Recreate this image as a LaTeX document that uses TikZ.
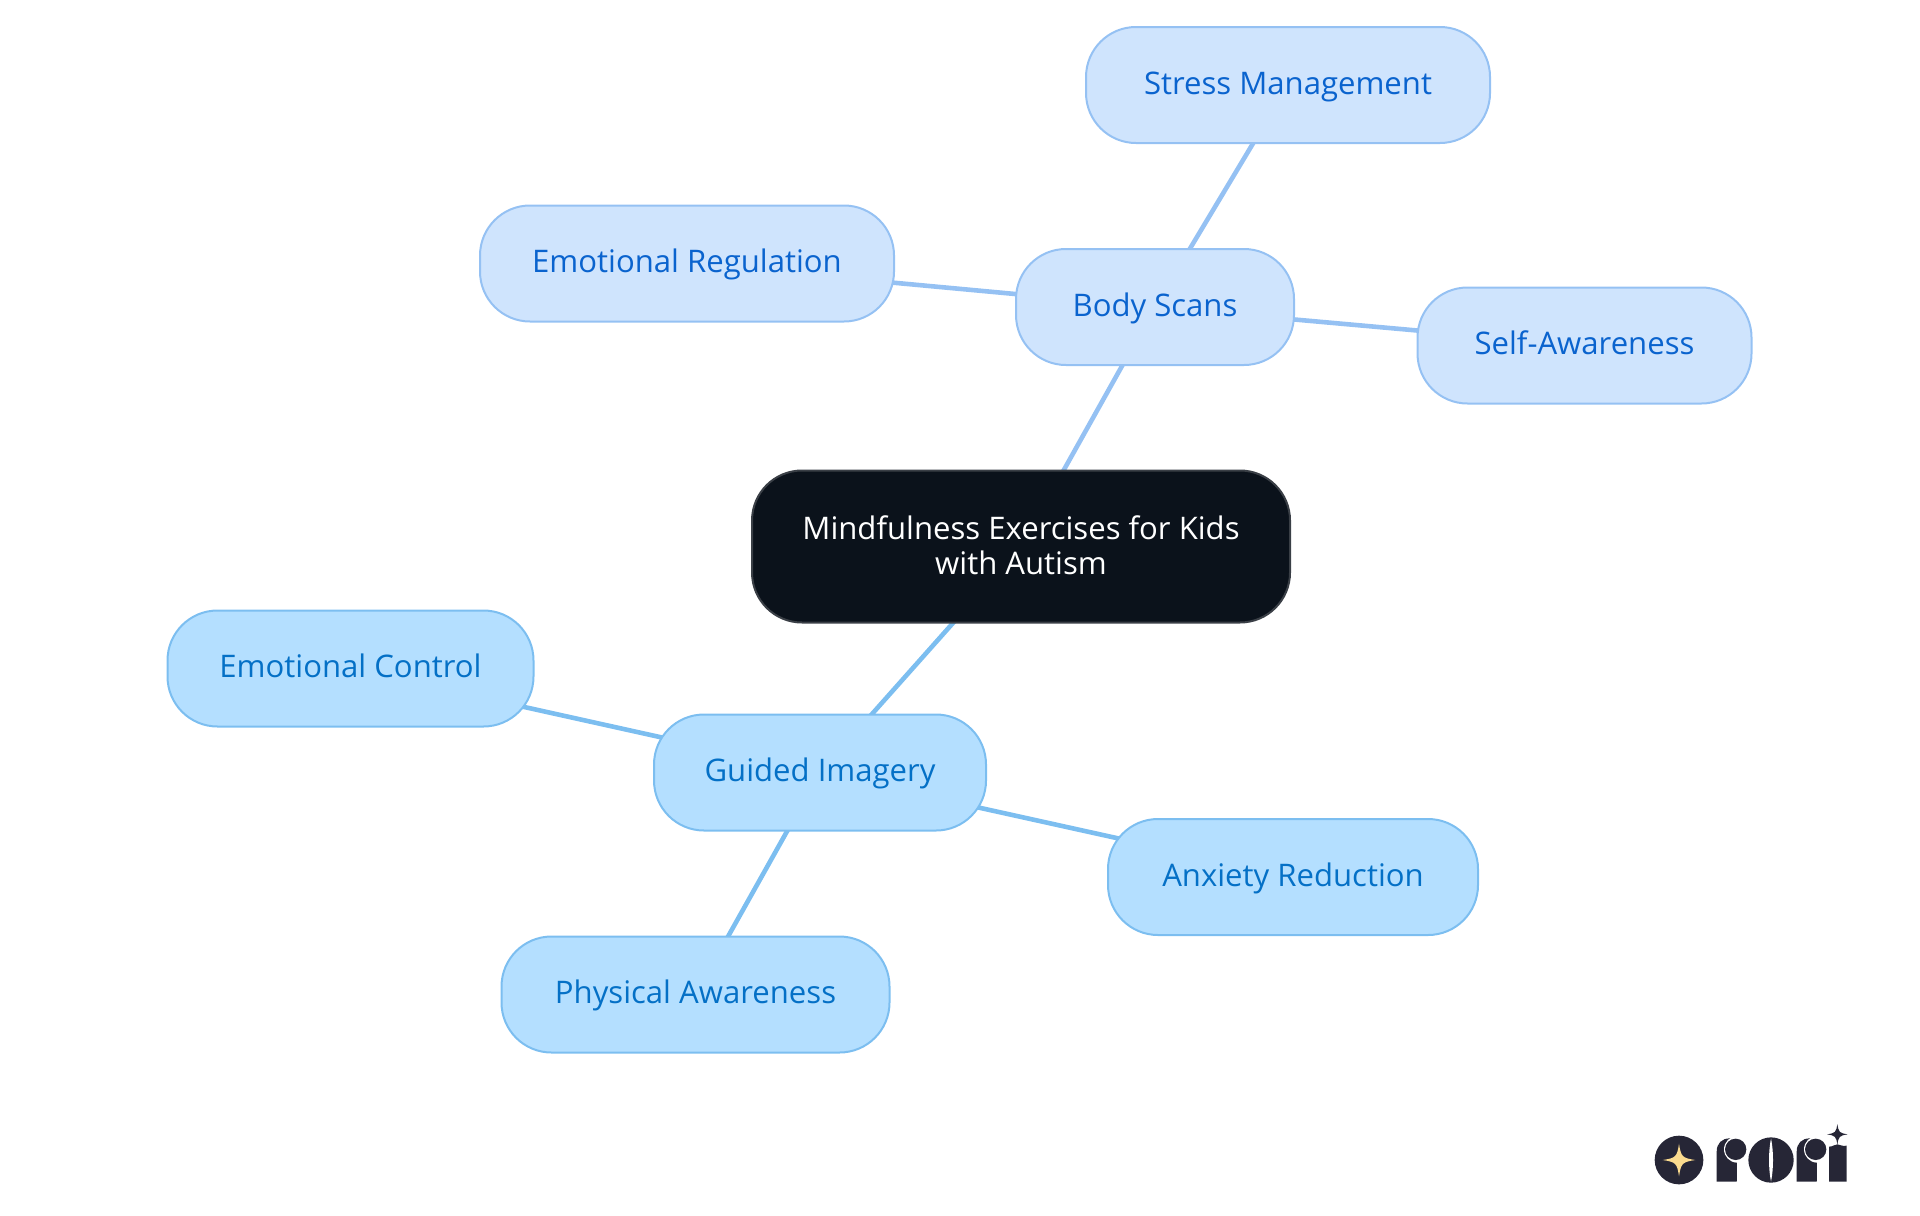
\documentclass[tikz,border=0pt]{standalone}
\usepackage{fontspec}
\setmainfont{Open Sans}
\usetikzlibrary{backgrounds}
\definecolor{rootfill}{HTML}{0B121B}
\definecolor{rootline}{HTML}{3A3F46}
\definecolor{bodyfill}{HTML}{CFE4FD}
\definecolor{bodyline}{HTML}{95C1F3}
\definecolor{bodytext}{HTML}{0A63CE}
\definecolor{guidefill}{HTML}{B4DFFF}
\definecolor{guideline}{HTML}{7CBEF0}
\definecolor{guidetext}{HTML}{0470C6}
\definecolor{logodark}{HTML}{262636}
\definecolor{logostar}{HTML}{FBDB8E}
\tikzset{
  pill/.style={rounded corners=25pt,inner sep=0pt,line width=1pt,align=center,minimum height=58pt,font=\fontsize{15.55}{17.5}\selectfont},
  single/.style={text height=11.5pt,text depth=2.3pt},
  bodypill/.style={pill,single,draw=bodyline,fill=bodyfill,text=bodytext},
  guidepill/.style={pill,single,draw=guideline,fill=guidefill,text=guidetext},
  rootpill/.style={pill,draw=rootline,fill=rootfill,text=white,text depth=1.2pt},
  bodyedge/.style={draw=bodyline,line width=2.3pt},
  guideedge/.style={draw=guideline,line width=2.3pt}
}
\newcommand{\fourstar}[4]{\fill[#4] (#1-#3,#2) .. controls (#1-#3*0.2,#2-#3*0.12) and (#1-#3*0.12,#2-#3*0.2) .. (#1,#2-#3) .. controls (#1+#3*0.12,#2-#3*0.2) and (#1+#3*0.2,#2-#3*0.12) .. (#1+#3,#2) .. controls (#1+#3*0.2,#2+#3*0.12) and (#1+#3*0.12,#2+#3*0.2) .. (#1,#2+#3) .. controls (#1-#3*0.12,#2+#3*0.2) and (#1-#3*0.2,#2+#3*0.12) .. (#1-#3,#2) -- cycle;}
\begin{document}
\begin{tikzpicture}[x=0.5pt,y=-0.5pt]
\useasboundingbox (0,0) rectangle (1920,1215);
\node[rootpill,minimum width=269pt,minimum height=76pt] (root) at (1021,546.5) {Mindfulness Exercises for Kids\\with Autism};
\node[bodypill,minimum width=139pt] (body) at (1155,307) {Body Scans};
\node[bodypill,minimum width=202pt] (stress) at (1288,85) {Stress Management};
\node[bodypill,minimum width=207pt] (emreg) at (687,263.5) {Emotional Regulation};
\node[bodypill,minimum width=167pt] (self) at (1584.5,345.5) {Self-Awareness};
\node[guidepill,minimum width=166pt] (guided) at (820,772.5) {Guided Imagery};
\node[guidepill,minimum width=183pt] (emctl) at (350.5,668.5) {Emotional Control};
\node[guidepill,minimum width=185pt] (anx) at (1293,877) {Anxiety Reduction};
\node[guidepill,minimum width=194pt] (phys) at (695.5,994.5) {Physical Awareness};
\begin{scope}[on background layer]
\draw[bodyedge] (root.center) -- (body.center);
\draw[bodyedge] (body.center) -- (stress.center);
\draw[bodyedge] (body.center) -- (emreg.center);
\draw[bodyedge] (body.center) -- (self.center);
\draw[guideedge] (root.center) -- (guided.center);
\draw[guideedge] (guided.center) -- (emctl.center);
\draw[guideedge] (guided.center) -- (anx.center);
\draw[guideedge] (guided.center) -- (phys.center);
\end{scope}
% logo
\begin{scope}[shift={(1630,1105)},x=0.16667pt,y=-0.16667pt]
\fill[logodark] (147,165) circle[radius=73];
\fourstar{147}{165}{49}{logostar}
% first r
\fill[logodark] (260,230) -- (260,140) .. controls (260,115) and (275,100) .. (300,100) -- (330,100) -- (320,230) -- cycle;
\fill[white] (322,133) circle[radius=40];
\fill[white] (320,170) rectangle (345,235);
\fill[logodark] (317,133) circle[radius=32];
% o
\fill[logodark] (423,165) circle[radius=68];
\fill[white] (423,100) .. controls (431,140) and (431,190) .. (423,230) .. controls (415,190) and (415,140) .. (423,100) -- cycle;
% second r
\fill[logodark] (500,230) -- (500,140) .. controls (500,115) and (515,100) .. (540,100) -- (570,100) -- (560,230) -- cycle;
\fill[white] (562,133) circle[radius=40];
\fill[white] (560,170) rectangle (585,235);
\fill[logodark] (557,133) circle[radius=32];
% i
\fill[logodark] (597,230) -- (597,125) .. controls (610,125) and (612,118) .. (622,118) .. controls (632,118) and (634,125) .. (650,122) -- (650,230) -- cycle;
\fourstar{622}{88}{31}{logodark}
\end{scope}
\end{tikzpicture}
\end{document}
